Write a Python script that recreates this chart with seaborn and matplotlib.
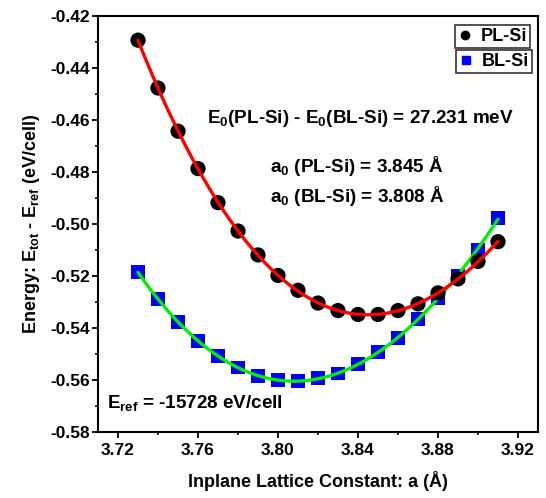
import numpy as np
import pandas as pd
import seaborn as sns
import matplotlib
matplotlib.use("Agg")
import matplotlib.pyplot as plt
from matplotlib.ticker import MultipleLocator, FormatStrFormatter
from matplotlib.lines import Line2D

# ---- data ----
lattice = [3.73, 3.74, 3.75, 3.76, 3.77, 3.78, 3.79, 3.80, 3.81, 3.82,
           3.83, 3.84, 3.85, 3.86, 3.87, 3.88, 3.89, 3.90, 3.91]
pl_si = [-0.4293, -0.4477, -0.4643, -0.4787, -0.4918, -0.5027, -0.5119,
         -0.5198, -0.5255, -0.5304, -0.5333, -0.5348, -0.5348, -0.5333,
         -0.5307, -0.5265, -0.5211, -0.5144, -0.5068]
bl_si = [-0.5186, -0.5288, -0.5376, -0.5451, -0.5508, -0.5552, -0.5584,
         -0.5600, -0.5604, -0.5594, -0.5575, -0.5540, -0.5493, -0.5438,
         -0.5365, -0.5283, -0.5199, -0.5098, -0.4978]
x_ticks = [3.72, 3.76, 3.80, 3.84, 3.88, 3.92]
y_ticks = [-0.58, -0.56, -0.54, -0.52, -0.50, -0.48, -0.46, -0.44, -0.42]

df = pd.DataFrame({"a": lattice, "PL-Si": pl_si, "BL-Si": bl_si})

sns.set_style("white")
plt.rcParams["font.family"] = ["Liberation Sans", "DejaVu Sans"]
plt.rcParams["font.weight"] = "bold"
plt.rcParams["axes.labelweight"] = "bold"
plt.rcParams["text.color"] = "black"
plt.rcParams["axes.labelcolor"] = "black"
plt.rcParams["xtick.color"] = "black"
plt.rcParams["ytick.color"] = "black"
plt.rcParams["mathtext.fontset"] = "custom"
plt.rcParams["mathtext.rm"] = "Liberation Sans:bold"
plt.rcParams["mathtext.it"] = "Liberation Sans:bold"
plt.rcParams["mathtext.bf"] = "Liberation Sans:bold"
plt.rcParams["mathtext.default"] = "rm"

fig = plt.figure(figsize=(5.46, 4.98), dpi=100)
ax = fig.add_axes([98 / 546, 1 - 432 / 498, 440 / 546, 416 / 498])

# BL-Si squares + green fit
sns.scatterplot(data=df, x="a", y="BL-Si", ax=ax, marker="s", s=100,
                color="#0000ff", edgecolor="none", zorder=2, legend=False)
sns.regplot(data=df, x="a", y="BL-Si", ax=ax, order=3, ci=None, scatter=False,
            truncate=True, line_kws={"color": "#00ee00", "lw": 2.4, "zorder": 3})
# PL-Si circles + red fit
sns.scatterplot(data=df, x="a", y="PL-Si", ax=ax, marker="o", s=120,
                color="black", edgecolor="none", zorder=4, legend=False)
sns.regplot(data=df, x="a", y="PL-Si", ax=ax, order=3, ci=None, scatter=False,
            truncate=True, line_kws={"color": "#ff0000", "lw": 2.4, "zorder": 5})

ax.set_xlim(3.71, 3.93)
ax.set_ylim(-0.58, -0.42)
ax.set_xticks(x_ticks)
ax.set_yticks(y_ticks)
ax.xaxis.set_minor_locator(MultipleLocator(0.02))
ax.yaxis.set_minor_locator(MultipleLocator(0.01))
ax.xaxis.set_major_formatter(FormatStrFormatter("%.2f"))
ax.yaxis.set_major_formatter(FormatStrFormatter("%.2f"))

for sp in ax.spines.values():
    sp.set_visible(True)
    sp.set_color("black")
    sp.set_linewidth(1.5)

ax.tick_params(axis="both", which="major", direction="out", length=4, width=1.3,
               labelsize=12.5, pad=2, color="black", labelcolor="black",
               left=True, bottom=True)
ax.tick_params(axis="both", which="minor", direction="out", length=2.5, width=1.2,
               left=True, bottom=True, color="black")
ax.tick_params(axis="both", which="both", top=True, right=True)
ax.tick_params(axis="x", which="major", pad=4)
for t in ax.xaxis.get_ticklines(minor=False)[1::2] + ax.xaxis.get_ticklines(minor=True)[1::2]:
    t.set_markersize(1.0)
for t in ax.yaxis.get_ticklines(minor=False)[1::2] + ax.yaxis.get_ticklines(minor=True)[1::2]:
    t.set_markersize(1.0)

ax.set_xlabel("Inplane Lattice Constant: a (Å)", fontsize=13, labelpad=9, color="black")
ax.set_ylabel("Energy: E$_{tot}$ - E$_{ref}$ (eV/cell)", fontsize=13, labelpad=6, color="black")

txt_kw = dict(transform=ax.transAxes, fontsize=13.6, fontweight="bold",
              va="baseline", ha="left", color="black")
ax.text(0.248, 0.743, "E$_0$(PL-Si) - E$_0$(BL-Si) = 27.231 meV", **txt_kw)
ax.text(0.391, 0.625, "a$_0$ (PL-Si) = 3.845 Å", **txt_kw)
ax.text(0.391, 0.553, "a$_0$ (BL-Si) = 3.808 Å", **txt_kw)
ax.text(0.020, 0.058, "E$_{ref}$ = -15728 eV/cell", **txt_kw)

leg_kw = dict(loc="upper right", frameon=True, fancybox=False, borderaxespad=0,
              handlelength=0.8, handletextpad=0.5, borderpad=0.15,
              prop={"weight": "bold", "size": 13})
h1 = Line2D([], [], marker="o", ls="none", color="black", markersize=6)
h2 = Line2D([], [], marker="s", ls="none", color="#0000ff", markersize=5.5)
leg1 = ax.legend([h1], ["PL-Si"], bbox_to_anchor=(0.982, 0.978), **leg_kw)
leg1.get_frame().set_edgecolor("black")
leg1.get_frame().set_linewidth(1.2)
for t in leg1.get_texts():
    t.set_color("black")
ax.add_artist(leg1)
leg2 = ax.legend([h2], ["BL-Si"], bbox_to_anchor=(0.986, 0.918), **leg_kw)
leg2.get_frame().set_edgecolor("black")
leg2.get_frame().set_linewidth(1.2)
for t in leg2.get_texts():
    t.set_color("black")

fig.savefig("out.png", dpi=100)
